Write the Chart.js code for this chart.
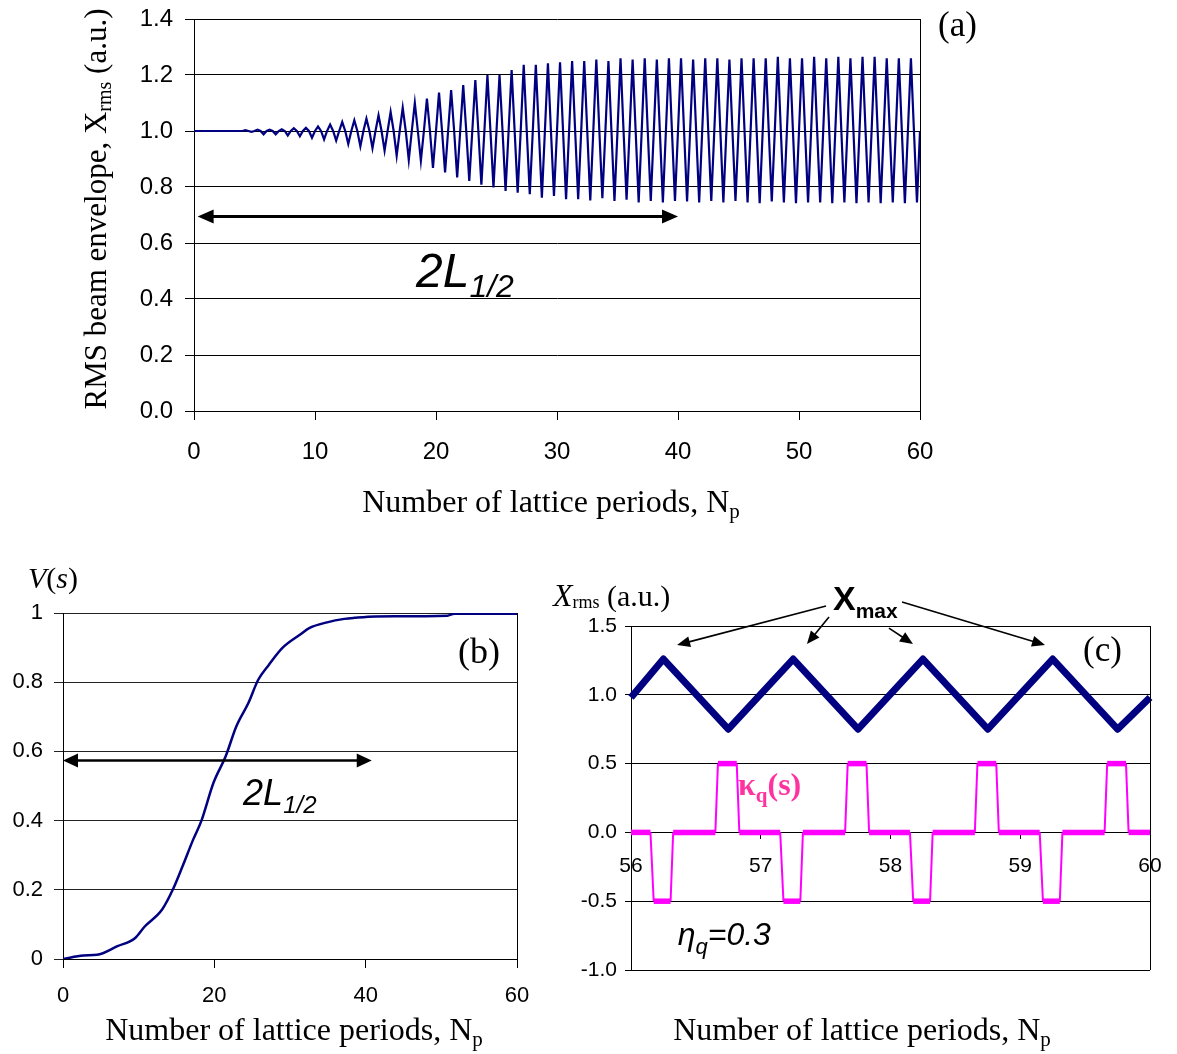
<!DOCTYPE html>
<html lang="en">

<head>
  <meta charset="UTF-8" />
  <title>Beam envelope growth</title>
  <script src="https://cdn.jsdelivr.net/npm/chart.js"></script>
  <style>
    * {
      margin: 0;
      padding: 0;
      box-sizing: border-box;
    }

    body {
      background: #fff;
      width: 1177px;
      height: 1054px;
      position: relative;
      overflow: hidden;
    }

    canvas {
      position: absolute;
      left: 0;
      top: 0;
    }
  </style>
</head>

<body>

  <canvas id="chartA" width="1177" height="1054"></canvas>
  <canvas id="chartB" width="1177" height="1054"></canvas>
  <canvas id="chartC" width="1177" height="1054"></canvas>

  <script>
    // ---- panel (a): envelope over 60 lattice periods (max / min per period)
    const peakA = [1, 1, 1, 1, 1.003, 1.005, 1.005, 1.006, 1.01, 1.011,
      1.016, 1.023, 1.032, 1.038, 1.044, 1.056, 1.068, 1.083, 1.1, 1.116,
      1.137, 1.146, 1.164, 1.182, 1.2, 1.2, 1.218, 1.236, 1.236, 1.242,
      1.245, 1.25, 1.25, 1.255, 1.25, 1.26, 1.255, 1.26, 1.255, 1.26,
      1.26, 1.255, 1.26, 1.26, 1.255, 1.26, 1.26, 1.26, 1.265, 1.26,
      1.26, 1.265, 1.26, 1.265, 1.26, 1.265, 1.265, 1.26, 1.26, 1.26];
    const troughA = [1, 1, 1, 1, 0.997, 0.988, 0.988, 0.984, 0.981, 0.976,
      0.97, 0.966, 0.954, 0.945, 0.939, 0.93, 0.912, 0.897, 0.894, 0.868,
      0.852, 0.834, 0.822, 0.808, 0.798, 0.786, 0.78, 0.774, 0.762, 0.768,
      0.756, 0.756, 0.752, 0.76, 0.75, 0.755, 0.745, 0.75, 0.745, 0.75,
      0.748, 0.745, 0.75, 0.745, 0.75, 0.745, 0.742, 0.748, 0.745, 0.742,
      0.745, 0.745, 0.742, 0.745, 0.742, 0.745, 0.742, 0.745, 0.742, 0.745];
    const midA = 1.0;               // level crossed twice per period
    const phaseA = [0, 0.25, 0.5, 0.75]; // mid, max, mid, min within a period
    const xTicksA = [0, 10, 20, 30, 40, 50, 60];
    const yTicksA = [0, 0.2, 0.4, 0.6, 0.8, 1.0, 1.2, 1.4];

    // ---- panel (b): V(s)
    const vX = [0, 2.7, 4.5, 7.2, 9.5, 10.8, 13.1, 14.5, 15.8, 17.2, 18.3, 19.9, 21.5, 22.9,
      24.5, 25.8, 27.2, 29.0, 31.3, 32.6, 34.9, 37.2, 38.5, 41.3, 50.8, 51.7, 60];
    const vY = [0, 0.01, 0.012, 0.037, 0.06, 0.094, 0.143, 0.2, 0.268, 0.345, 0.40, 0.51, 0.586, 0.672,
      0.74, 0.807, 0.85, 0.899, 0.937, 0.957, 0.973, 0.983, 0.986, 0.99, 0.992, 0.998, 0.998];
    const xTicksB = [0, 20, 40, 60];
    const yTicksB = [0, 0.2, 0.4, 0.6, 0.8, 1];

    // ---- panel (c): last four periods, envelope and focusing function
    const xrmsX = [56, 56.25, 56.75, 57.25, 57.75, 58.25, 58.75, 59.25, 59.75, 60];
    const xrmsY = [0.98, 1.26, 0.75, 1.26, 0.75, 1.26, 0.75, 1.26, 0.75, 0.98];
    const kappaX = [56, 56.15, 56.175, 56.305, 56.325, 56.65, 56.67, 56.815, 56.835,
      57.15, 57.175, 57.305, 57.325, 57.65, 57.67, 57.815, 57.835,
      58.15, 58.175, 58.305, 58.325, 58.65, 58.67, 58.815, 58.835,
      59.15, 59.175, 59.305, 59.325, 59.65, 59.67, 59.815, 59.835, 60];
    const kappaY = [0, 0, -0.5, -0.5, 0, 0, 0.5, 0.5, 0,
      0, -0.5, -0.5, 0, 0, 0.5, 0.5, 0,
      0, -0.5, -0.5, 0, 0, 0.5, 0.5, 0,
      0, -0.5, -0.5, 0, 0, 0.5, 0.5, 0, 0];
    const xTicksC = [56, 57, 58, 59, 60];
    const yTicksC = [-1, -0.5, 0, 0.5, 1, 1.5];

    const SERIF = '"Liberation Serif", "Times New Roman", serif';
    const SANS = '"Liberation Sans", Arial, sans-serif';
    const NAVY = '#000080';

    const ptsA = [];
    peakA.forEach((pk, j) => {
      const vals = [midA, pk, midA, troughA[j]];
      phaseA.forEach((ph, k) => ptsA.push({ x: j + ph, y: vals[k] }));
    });
    ptsA.push({ x: peakA.length, y: midA });

    const zip = (xs, ys) => xs.map((x, i) => ({ x: x, y: ys[i] }));
    const fixTicks = list => axis => { axis.ticks = list.map(v => ({ value: v })); };
    // fixed box size; labels may overhang the plot edges
    const fitTo = (w, h) => s => {
      if (w !== null) s.width = w;
      if (h !== null) s.height = h;
      s.paddingTop = s.paddingBottom = s.paddingLeft = s.paddingRight = 0;
    };

    // text made of runs (sub/superscripts, mixed fonts)
    function rich(ctx, x, y, parts, align) {
      let w = 0;
      parts.forEach(p => { ctx.font = p.f; p.w = ctx.measureText(p.t).width; w += p.w; });
      let cx = align === 'center' ? x - w / 2 : x;
      ctx.textAlign = 'left';
      ctx.textBaseline = 'alphabetic';
      parts.forEach(p => {
        ctx.font = p.f;
        ctx.fillStyle = p.c || '#000';
        ctx.fillText(p.t, cx, y + (p.dy || 0));
        cx += p.w;
      });
    }

    function arrow(ctx, x1, y1, x2, y2, both, lw, L, H) {
      const a = Math.atan2(y2 - y1, x2 - x1);
      const cos = Math.cos(a), sin = Math.sin(a);
      ctx.strokeStyle = '#000';
      ctx.fillStyle = '#000';
      ctx.lineWidth = lw;
      ctx.beginPath();
      ctx.moveTo(both ? x1 + cos * L * 0.8 : x1, both ? y1 + sin * L * 0.8 : y1);
      ctx.lineTo(x2 - cos * L * 0.8, y2 - sin * L * 0.8);
      ctx.stroke();
      const head = (tx, ty, c, s) => {
        ctx.beginPath();
        ctx.moveTo(tx, ty);
        ctx.lineTo(tx - c * L - s * H, ty - s * L + c * H);
        ctx.lineTo(tx - c * L + s * H, ty - s * L - c * H);
        ctx.closePath();
        ctx.fill();
      };
      head(x2, y2, cos, sin);
      if (both) head(x1, y1, -cos, -sin);
    }

    function rightBorder(chart) {
      const { ctx, chartArea } = chart;
      ctx.save();
      ctx.strokeStyle = '#000';
      ctx.lineWidth = 1;
      ctx.beginPath();
      ctx.moveTo(Math.round(chartArea.right) + 0.5, chartArea.top);
      ctx.lineTo(Math.round(chartArea.right) + 0.5, chartArea.bottom);
      ctx.stroke();
      ctx.restore();
    }

    const nLabel = () => [
      { t: 'Number of lattice periods, N', f: `32px ${SERIF}` },
      { t: 'p', f: `21px ${SERIF}`, dy: 6 }
    ];

    const baseOpts = {
      responsive: false,
      animation: false,
      events: [],
      plugins: { legend: { display: false }, tooltip: { enabled: false } }
    };

    // ---------------- (a)
    new Chart(document.getElementById('chartA'), {
      type: 'line',
      data: {
        datasets: [{
          data: ptsA,
          borderColor: NAVY,
          borderWidth: 2.2,
          pointRadius: 0,
          tension: 0
        }]
      },
      options: {
        ...baseOpts,
        layout: { padding: { left: 0, top: 19, right: 257, bottom: 0 } },
        scales: {
          x: {
            type: 'linear', min: 0, max: 60,
            afterBuildTicks: fixTicks(xTicksA),
            afterFit: fitTo(null, 643),
            grid: { drawOnChartArea: false, tickLength: 9, color: '#000' },
            border: { color: '#000' },
            ticks: { autoSkip: false, padding: 18, color: '#000', font: { family: SANS, size: 24 } }
          },
          y: {
            min: 0, max: 1.4,
            afterBuildTicks: fixTicks(yTicksA),
            afterFit: fitTo(194, null),
            grid: { tickLength: 9, color: '#000' },
            border: { color: '#000' },
            ticks: { padding: 12, color: '#000', font: { family: SANS, size: 24 }, callback: v => v.toFixed(1) }
          }
        }
      },
      plugins: [{
        id: 'notesA',
        afterDraw(chart) {
          const { ctx, scales: { x, y } } = chart;
          rightBorder(chart);
          ctx.save();
          const ay = y.getPixelForValue(0.695);
          arrow(ctx, x.getPixelForValue(0.3), ay, x.getPixelForValue(40), ay, true, 3, 16, 7);
          rich(ctx, x.getPixelForValue(18.35), y.getPixelForValue(0.443), [
            { t: '2L', f: `italic 48px ${SANS}` },
            { t: '1/2', f: `italic 32px ${SANS}`, dy: 10 }
          ]);
          rich(ctx, 938, 36, [{ t: '(a)', f: `35px ${SERIF}` }]);
          rich(ctx, 551, 512, nLabel(), 'center');
          ctx.translate(106, 209);
          ctx.rotate(-Math.PI / 2);
          rich(ctx, 0, 0, [
            { t: 'RMS beam envelope, X', f: `31px ${SERIF}` },
            { t: 'rms', f: `20px ${SERIF}`, dy: 5 },
            { t: ' (a.u.)', f: `31px ${SERIF}` }
          ], 'center');
          ctx.restore();
        }
      }]
    });

    // ---------------- (b)
    new Chart(document.getElementById('chartB'), {
      type: 'line',
      data: {
        datasets: [{
          data: zip(vX, vY),
          borderColor: NAVY,
          borderWidth: 2.5,
          pointRadius: 0,
          cubicInterpolationMode: 'monotone'
        }]
      },
      options: {
        ...baseOpts,
        layout: { padding: { left: 0, top: 613, right: 660, bottom: 0 } },
        scales: {
          x: {
            type: 'linear', min: 0, max: 60,
            afterBuildTicks: fixTicks(xTicksB),
            afterFit: fitTo(null, 95),
            grid: { drawOnChartArea: false, tickLength: 9, color: '#000' },
            border: { color: '#000' },
            ticks: { autoSkip: false, padding: 15, color: '#000', font: { family: SANS, size: 22 } }
          },
          y: {
            min: 0, max: 1,
            afterBuildTicks: fixTicks(yTicksB),
            afterFit: fitTo(63, null),
            grid: { tickLength: 9, color: '#222' },
            border: { color: '#000' },
            ticks: { padding: 11, color: '#000', font: { family: SANS, size: 22 }, callback: v => String(v) }
          }
        }
      },
      plugins: [{
        id: 'notesB',
        afterDraw(chart) {
          const { ctx, scales: { x, y } } = chart;
          rightBorder(chart);
          ctx.save();
          const ay = y.getPixelForValue(0.574);
          arrow(ctx, x.getPixelForValue(0), ay, x.getPixelForValue(40.8), ay, true, 2.5, 15, 7);
          rich(ctx, x.getPixelForValue(23.8), y.getPixelForValue(0.445), [
            { t: '2L', f: `italic 36px ${SANS}` },
            { t: '1/2', f: `italic 24px ${SANS}`, dy: 8 }
          ]);
          rich(ctx, 458, 663, [{ t: '(b)', f: `36px ${SERIF}` }]);
          rich(ctx, 28, 588, [
            { t: 'V', f: `italic 30px ${SERIF}` },
            { t: '(', f: `30px ${SERIF}` },
            { t: 's', f: `italic 30px ${SERIF}` },
            { t: ')', f: `30px ${SERIF}` }
          ]);
          rich(ctx, 294, 1040, nLabel(), 'center');
          ctx.restore();
        }
      }]
    });

    // ---------------- (c)
    new Chart(document.getElementById('chartC'), {
      type: 'line',
      data: {
        datasets: [{
          data: zip(xrmsX, xrmsY),
          borderColor: NAVY,
          borderWidth: 7,
          borderJoinStyle: 'round',
          pointRadius: 0,
          tension: 0,
          clip: 8
        }, {
          data: zip(kappaX, kappaY),
          borderColor: '#ff00ff',
          borderWidth: 2,
          pointRadius: 0,
          tension: 0,
          clip: 8,
          segment: {
            borderWidth: c => c.p0.parsed.y === c.p1.parsed.y ? 5.5 : 2
          }
        }]
      },
      options: {
        ...baseOpts,
        layout: { padding: { left: 545, top: 626, right: 27, bottom: 84 } },
        scales: {
          x: {
            type: 'linear', min: 56, max: 60,
            position: { y: 0 },
            afterBuildTicks: fixTicks(xTicksC),
            grid: { drawOnChartArea: false, tickLength: 6, color: '#000' },
            border: { color: '#000' },
            ticks: { autoSkip: false, padding: 15, color: '#000', font: { family: SANS, size: 21 } }
          },
          y: {
            min: -1, max: 1.5,
            afterBuildTicks: fixTicks(yTicksC),
            afterFit: fitTo(86, null),
            grid: { tickLength: 6, color: '#000' },
            border: { color: '#000' },
            ticks: { padding: 8, color: '#000', font: { family: SANS, size: 21 }, callback: v => v.toFixed(1) }
          }
        }
      },
      plugins: [{
        id: 'notesC',
        afterDraw(chart) {
          const { ctx, scales: { x, y } } = chart;
          rightBorder(chart);
          ctx.save();
          const P = (a, b) => [x.getPixelForValue(a), y.getPixelForValue(b)];
          // arrows from the X_max label to the envelope maxima
          [
            [57.503, 1.645, 56.355, 1.362],
            [57.526, 1.565, 57.356, 1.369],
            [57.988, 1.485, 58.173, 1.369],
            [58.089, 1.674, 59.191, 1.362]
          ].forEach(([a, b, c, d]) => {
            const [x1, y1] = P(a, b), [x2, y2] = P(c, d);
            arrow(ctx, x1, y1, x2, y2, false, 1.6, 13, 5.5);
          });
          const [mx, my] = P(57.557, 1.616);
          rich(ctx, mx, my, [
            { t: 'X', f: `bold 34px ${SANS}` },
            { t: 'max', f: `bold 21px ${SANS}`, dy: 8 }
          ]);
          const [kx, ky] = P(56.825, 0.272);
          rich(ctx, kx, ky, [
            { t: 'κ', f: `bold 32px ${SERIF}`, c: '#ff33a0' },
            { t: 'q', f: `bold 21px ${SERIF}`, c: '#ff33a0', dy: 7 },
            { t: '(s)', f: `bold 32px ${SERIF}`, c: '#ff33a0' }
          ]);
          const [ex, ey] = P(56.36, -0.818);
          rich(ctx, ex, ey, [
            { t: 'η', f: `italic 32px ${SANS}` },
            { t: 'q', f: `italic 22px ${SANS}`, dy: 9 },
            { t: '=0.3', f: `italic 32px ${SANS}` }
          ]);
          rich(ctx, 1083, 661, [{ t: '(c)', f: `35px ${SERIF}` }]);
          rich(ctx, 553, 606, [
            { t: 'X', f: `italic 32px ${SERIF}` },
            { t: 'rms', f: `18px ${SERIF}`, dy: 2 },
            { t: ' (a.u.)', f: `30px ${SERIF}` }
          ]);
          rich(ctx, 862, 1040, nLabel(), 'center');
          ctx.restore();
        }
      }]
    });
  </script>

</body>

</html>
